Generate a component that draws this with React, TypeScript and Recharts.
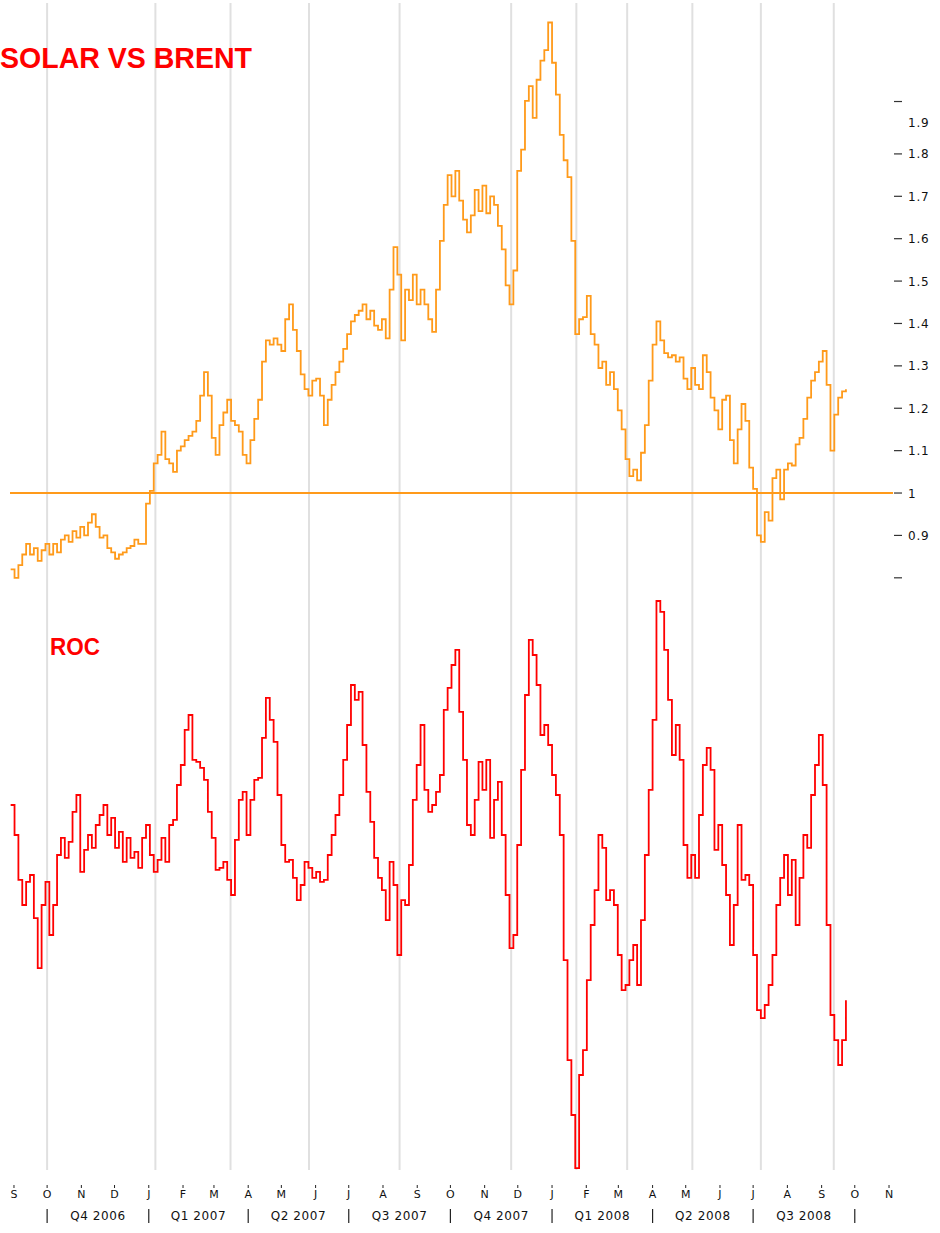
import { ComposedChart, Line, XAxis, YAxis, ReferenceLine } from "recharts";

const DAY = 86400000;
const SERIES_START = Date.UTC(2006, 7, 29);
const STEP_DAYS = 3.5;

// Solar / Brent ratio, one reading every half week
const ratio = [
  0.82, 0.8, 0.83, 0.855, 0.88, 0.855, 0.87, 0.84, 0.865, 0.88,
  0.855, 0.88, 0.86, 0.89, 0.9, 0.885, 0.91, 0.895, 0.92, 0.9,
  0.93, 0.95, 0.92, 0.895, 0.9, 0.87, 0.86, 0.845, 0.855, 0.86,
  0.87, 0.875, 0.89, 0.88, 0.88, 0.975, 1.005, 1.07, 1.09, 1.145,
  1.08, 1.07, 1.05, 1.1, 1.11, 1.125, 1.135, 1.145, 1.17, 1.23,
  1.285, 1.23, 1.13, 1.09, 1.16, 1.19, 1.22, 1.17, 1.16, 1.145,
  1.09, 1.07, 1.125, 1.175, 1.22, 1.31, 1.36, 1.35, 1.365, 1.35,
  1.335, 1.41, 1.445, 1.385, 1.335, 1.28, 1.245, 1.23, 1.265, 1.27,
  1.23, 1.16, 1.22, 1.255, 1.285, 1.31, 1.34, 1.375, 1.405, 1.42,
  1.43, 1.445, 1.41, 1.43, 1.395, 1.385, 1.41, 1.365, 1.48, 1.58,
  1.515, 1.36, 1.48, 1.455, 1.515, 1.445, 1.48, 1.445, 1.41, 1.38,
  1.48, 1.595, 1.68, 1.75, 1.7, 1.76, 1.69, 1.645, 1.615, 1.655,
  1.715, 1.665, 1.725, 1.66, 1.7, 1.68, 1.63, 1.575, 1.49, 1.445,
  1.525, 1.76, 1.81, 1.925, 1.96, 1.885, 1.975, 2.02, 2.045, 2.11,
  2.015, 1.94, 1.845, 1.785, 1.745, 1.595, 1.375, 1.41, 1.415, 1.465,
  1.375, 1.35, 1.295, 1.31, 1.255, 1.285, 1.245, 1.195, 1.15, 1.08,
  1.04, 1.055, 1.03, 1.095, 1.16, 1.265, 1.35, 1.405, 1.36, 1.33,
  1.32, 1.325, 1.31, 1.32, 1.27, 1.245, 1.295, 1.255, 1.245, 1.325,
  1.285, 1.225, 1.195, 1.15, 1.22, 1.23, 1.125, 1.07, 1.15, 1.21,
  1.17, 1.06, 1.01, 0.9, 0.885, 0.955, 0.935, 1.035, 1.055, 0.985,
  1.055, 1.07, 1.065, 1.115, 1.13, 1.175, 1.225, 1.265, 1.285, 1.31,
  1.335, 1.255, 1.1, 1.185, 1.225, 1.24, 1.245,
];

// rate of change, same dates
const roc = [
  20, 12.5, 1.3, -5, 0.8, 2.5, -8.3, -20.8, -5, 0.8,
  -12.5, -5, 7.5, 11.8, 6.8, 10.8, 18.3, 22.5, 3.3, 8.8,
  12.5, 9.3, 15, 17.5, 20, 12.5, 16.8, 9.3, 13.3, 5.8,
  11.8, 6.8, 8.3, 4.3, 11.8, 15, 7.5, 3.3, 6.3, 11.8,
  5.8, 15, 16.3, 25, 30, 38.8, 42.5, 31.3, 30.8, 29.3,
  26.3, 18.3, 11.8, 3.8, 4.3, 5.8, 1.3, -2.5, 11.3, 21.3,
  23.3, 12.5, 21.3, 26.3, 26.8, 36.8, 46.8, 41.3, 35.8, 22.5,
  10, 5.8, 6.3, 1.8, -3.8, 0, 5.8, 4.3, 1.8, 3.3,
  0.8, 1.3, 7.5, 12.5, 17.5, 22.5, 31.3, 40, 50, 46.3,
  48.3, 35, 23.3, 15.8, 6.8, 1.8, -1.3, -8.8, 5.8, 0,
  -17.5, -3.8, -5, 5, 21.3, 30, 40, 23.8, 18.3, 20,
  23.3, 27.5, 43.8, 49.3, 55, 58.8, 43.3, 31.3, 15, 12.5,
  21.3, 30.8, 23.8, 31.3, 11.8, 21.3, 25.8, 12.5, -2.5, -15.8,
  -12.5, 10, 28.8, 47.5, 61.3, 57.5, 50, 37.5, 40, 35,
  27.5, 22.5, 12.5, -18.8, -43.8, -57.5, -70.8, -47.5, -41.3, -23.8,
  -10, -1.3, 12.5, 9.3, -3.8, -1.3, -5, -17.5, -26.3, -25,
  -18.8, -15, -25, -8.8, 7.5, 23.8, 41.3, 71, 68.3, 58.8,
  46.3, 32.5, 40, 31.3, 10, 1.8, 7.5, 1.8, 17.5, 30,
  34.3, 28.8, 8.8, 15, 5, -2.5, -15, -5, 15, 1.3,
  2.5, 0, -17.5, -31.3, -33.3, -30, -25, -17.5, -5, 1.8,
  7.5, -2.5, 6.3, -10, 1.8, 12.5, 9.3, 22.5, 30, 37.5,
  25, -10, -32.5, -38.8, -45, -38.8, -28.8,
];

// Sep 2006 .. Nov 2008
const MONTH_LETTERS = [
  "S", "O", "N", "D", "J", "F", "M", "A", "M", "J", "J", "A", "S", "O",
  "N", "D", "J", "F", "M", "A", "M", "J", "J", "A", "S", "O", "N",
];
const QUARTER_LABELS = [
  "Q4 2006", "Q1 2007", "Q2 2007", "Q3 2007",
  "Q4 2007", "Q1 2008", "Q2 2008", "Q3 2008",
];
const RATIO_TICKS = [0.8, 0.9, 1, 1.1, 1.2, 1.3, 1.4, 1.5, 1.6, 1.7, 1.8, 1.9];
const MARKER_DATES = [
  "2006-10-01", "2007-01-07", "2007-03-16", "2007-05-26", "2007-08-16", "2007-11-25",
  "2008-01-23", "2008-03-09", "2008-05-07", "2008-07-08", "2008-09-12",
];

const data = ratio.map((r, i) => ({
  t: SERIES_START + i * STEP_DAYS * DAY,
  ratio: r,
  roc: roc[i],
}));

const X_DOMAIN = [Date.UTC(2006, 8, 1) - 3.6 * DAY, Date.UTC(2008, 10, 1) + 3.6 * DAY];

type TickInfo = { kind: "month" | "quarter"; label: string; sep?: boolean };
const tickInfo = new Map<number, TickInfo>();
MONTH_LETTERS.forEach((l, k) => {
  tickInfo.set(Date.UTC(2006, 8 + k, 1), { kind: "month", label: l, sep: (8 + k) % 3 === 0 });
});
QUARTER_LABELS.forEach((l, j) => {
  const s = Date.UTC(2006, 9 + 3 * j, 1);
  const e = Date.UTC(2006, 12 + 3 * j, 1);
  tickInfo.set((s + e) / 2, { kind: "quarter", label: l });
});
const xTicks = [...tickInfo.keys()].sort((a, b) => a - b);

const TICK_FONT = "'DejaVu Sans', Verdana, sans-serif";

function TimeTick({ x, y, payload }: any) {
  const info = tickInfo.get(payload.value);
  if (!info) return null;
  if (info.kind === "quarter") {
    return (
      <text x={x} y={y + 50} textAnchor="middle" fontSize={12} letterSpacing={0.6}
        fontFamily={TICK_FONT} fill="#111">
        {info.label}
      </text>
    );
  }
  return (
    <g>
      <line x1={x} x2={x} y1={y + 15} y2={y + 18} stroke="#222" strokeWidth={1} />
      <text x={x} y={y + 28} textAnchor="middle" fontSize={11} fontFamily={TICK_FONT} fill="#111">
        {info.label}
      </text>
      {info.sep && <line x1={x} x2={x} y1={y + 39} y2={y + 53} stroke="#222" strokeWidth={1.2} />}
    </g>
  );
}

function RatioTick({ x, y, payload }: any) {
  const v = payload.value;
  const top = v === 1.9;
  const dy = top ? y - 10 : y;
  return (
    <g>
      <line x1={x + 1} x2={x + 9} y1={dy} y2={dy} stroke="#333" strokeWidth={1.2} />
      {v !== 0.8 && (
        <text x={x + 15} y={(top ? y + 11 : y) + 4.5} fontSize={12} letterSpacing={0.8}
          fontFamily={TICK_FONT} fill="#111">
          {String(v)}
        </text>
      )}
    </g>
  );
}

export default function App() {
  return (
    <div style={{ position: "absolute", left: 0, top: 0, width: 940, height: 1233, background: "#fff" }}>
      <ComposedChart width={940} height={1233} data={data}
        margin={{ top: 3, right: 0, bottom: 0, left: 10 }}>
        <XAxis dataKey="t" type="number" domain={X_DOMAIN} allowDataOverflow ticks={xTicks}
          interval={0} axisLine={false} tickLine={false} tickSize={0} tickMargin={0}
          height={63} tick={<TimeTick />} />
        <YAxis yAxisId="r" orientation="right" type="number" domain={[-0.597, 2.156]}
          allowDataOverflow ticks={RATIO_TICKS} interval={0} axisLine={false} tickLine={false}
          tickSize={0} tickMargin={0} width={47} tick={<RatioTick />} />
        <YAxis yAxisId="roc" type="number" domain={[-71.25, 220.5]} allowDataOverflow hide />
        {MARKER_DATES.map((d) => (
          <ReferenceLine key={d} yAxisId="r" x={Date.parse(d)} stroke="#e0e0e0" strokeWidth={2} />
        ))}
        <ReferenceLine yAxisId="r" y={1} stroke="#ff9a1a" strokeWidth={2} />
        <Line yAxisId="r" type="stepAfter" dataKey="ratio" stroke="#ff9a1a" strokeWidth={1.8}
          dot={false} isAnimationActive={false} />
        <Line yAxisId="roc" type="stepAfter" dataKey="roc" stroke="#ff0000" strokeWidth={1.8}
          dot={false} isAnimationActive={false} />
      </ComposedChart>
      <svg width={940} height={1233} style={{ position: "absolute", left: 0, top: 0, pointerEvents: "none" }}>
        <text x={0} y={68} fontFamily="'Liberation Sans', Arial, sans-serif" fontWeight="bold"
          fontSize={30} textLength={252} lengthAdjust="spacingAndGlyphs" fill="#ff0000">
          SOLAR VS BRENT
        </text>
        <text x={50} y={655} fontFamily="'Liberation Sans', Arial, sans-serif" fontWeight="bold"
          fontSize={23.5} textLength={50} lengthAdjust="spacingAndGlyphs" fill="#ff0000">
          ROC
        </text>
      </svg>
    </div>
  );
}
